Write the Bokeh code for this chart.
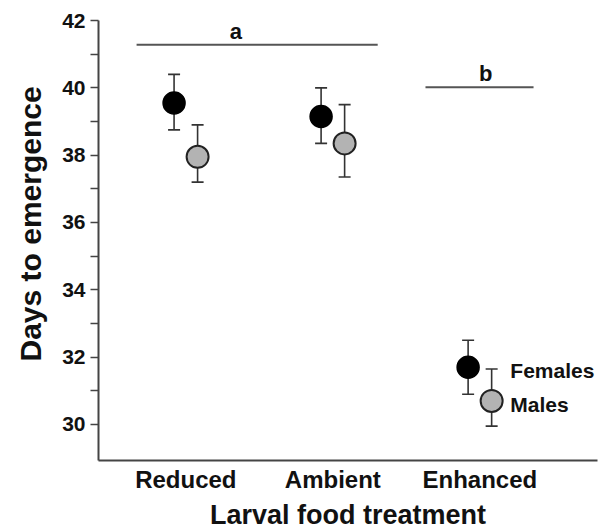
from bokeh.plotting import figure
from bokeh.models import (ColumnDataSource, FixedTicker, Whisker, TeeHead,
                          Range1d, Label, Title)
from bokeh.embed import file_html
from bokeh.resources import INLINE

# ---- data ----
treatments = ["Reduced", "Ambient", "Enhanced"]
female_mean = [39.55, 39.15, 31.70]
female_upper = [40.40, 40.00, 32.50]
female_lower = [38.75, 38.35, 30.90]
male_mean = [37.95, 38.35, 30.70]
male_upper = [38.90, 39.50, 31.65]
male_lower = [37.20, 37.35, 29.95]

y_ticks = [30, 32, 34, 36, 38, 40, 42]
y_minor = [31, 33, 35, 37, 39, 41]

sig_letters = ["a", "b"]
sig_start = [0.665, 2.63]
sig_end = [2.305, 3.365]
sig_level = [41.28, 40.02]
sig_label_x = [1.34, 3.04]

series_names = ["Females", "Males"]
y_title = "Days to emergence"
x_title = "Larval food treatment"

FONT = "Liberation Sans"
dodge = 0.08
cat_x = [i + 1 for i in range(len(treatments))]

src_f = ColumnDataSource(dict(x=[c - dodge for c in cat_x], y=female_mean,
                              upper=female_upper, lower=female_lower))
src_m = ColumnDataSource(dict(x=[c + dodge for c in cat_x], y=male_mean,
                              upper=male_upper, lower=male_lower))

p = figure(width=605, height=532, output_backend="svg", toolbar_location=None,
           x_range=Range1d(0.406, 3.80), y_range=Range1d(28.93, 42),
           min_border_left=98, min_border_right=8, min_border_top=20,
           min_border_bottom=70)
p.outline_line_color = None
p.xgrid.visible = False
p.ygrid.visible = False
p.background_fill_color = "white"
p.border_fill_color = "white"

# error bars
for src in (src_f, src_m):
    w = Whisker(source=src, base="x", upper="upper", lower="lower",
                line_color="#333333", line_width=1.6, level="underlay",
                upper_head=TeeHead(size=12, line_color="#333333", line_width=1.6),
                lower_head=TeeHead(size=12, line_color="#333333", line_width=1.6))
    p.add_layout(w)

p.scatter("x", "y", source=src_f, size=22, fill_color="black",
          line_color="black", line_width=1.5)
p.scatter("x", "y", source=src_m, size=22, fill_color="#b3b3b3",
          line_color="#222222", line_width=2)

# significance bars
p.segment(x0=sig_start, y0=sig_level, x1=sig_end, y1=sig_level,
          line_color="#555555", line_width=2)
for letter, lx, ly in zip(sig_letters, sig_label_x, sig_level):
    p.add_layout(Label(x=lx, y=ly, text=letter, text_font=FONT,
                       text_font_style="bold", text_font_size="22px",
                       text_align="center", text_baseline="bottom",
                       y_offset=1, text_color="#111111"))

# series labels next to the enhanced points
p.add_layout(Label(x=cat_x[2] + 0.207, y=female_mean[2] - 0.1, text=series_names[0],
                   text_font=FONT, text_font_style="bold", text_font_size="21px",
                   text_baseline="middle", text_color="#111111"))
p.add_layout(Label(x=cat_x[2] + 0.207, y=male_mean[2] - 0.1, text=series_names[1],
                   text_font=FONT, text_font_style="bold", text_font_size="21px",
                   text_baseline="middle", text_color="#111111"))

# y title as a side title (allows shifting along the axis)
p.add_layout(Title(text=y_title, align="left", offset=99, vertical_align="middle",
                   text_font=FONT, text_font_style="bold", text_font_size="30px",
                   text_color="#111111", standoff=23), "left")

# y axis
ya = p.yaxis[0]
ya.ticker = FixedTicker(ticks=y_ticks, minor_ticks=y_minor)
ya.axis_line_width = 2
ya.axis_line_color = "#444444"
ya.major_tick_line_color = "#444444"
ya.minor_tick_line_color = "#444444"
ya.major_tick_line_width = 1.6
ya.minor_tick_line_width = 1.6
ya.major_tick_out = 8
ya.major_tick_in = 0
ya.minor_tick_out = 8
ya.minor_tick_in = 0
ya.major_label_standoff = 5
ya.major_label_text_font = FONT
ya.major_label_text_font_style = "bold"
ya.major_label_text_font_size = "21px"
ya.major_label_text_color = "#111111"

# x axis
xa = p.xaxis[0]
xa.ticker = FixedTicker(ticks=cat_x)
xa.major_label_overrides = {c: t for c, t in zip(cat_x, treatments)}
xa.axis_line_width = 2
xa.axis_line_color = "#444444"
xa.major_tick_line_color = None
xa.minor_tick_line_color = None
xa.major_tick_out = 0
xa.major_tick_in = 0
xa.major_label_standoff = 5
xa.major_label_text_font = FONT
xa.major_label_text_font_style = "bold"
xa.major_label_text_font_size = "24px"
xa.major_label_text_color = "#111111"
xa.axis_label = x_title
xa.axis_label_text_font = FONT
xa.axis_label_text_font_style = "bold"
xa.axis_label_text_font_size = "27px"
xa.axis_label_text_color = "#111111"
xa.axis_label_standoff = 4

open("out.html", "w").write(file_html(p, INLINE))
